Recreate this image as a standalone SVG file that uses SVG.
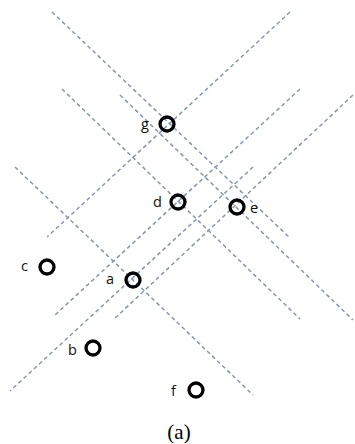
<svg xmlns="http://www.w3.org/2000/svg" width="355" height="444" viewBox="0 0 355 444">
<style>
.ln{stroke:#8797b0;stroke-width:1.5;stroke-dasharray:4 3;fill:none}
.nd{fill:none;stroke:#000;stroke-width:3.3}
.lb{font-family:"Open Sans","Liberation Sans",sans-serif;font-size:14.5px;fill:#111}
.cap{font-family:"Liberation Serif",serif;font-size:21px;fill:#000}
</style>
<rect width="355" height="444" fill="#fff"/>
<g id="connectors">
<line class="ln" x1="52" y1="12" x2="290" y2="238"/>
<line class="ln" x1="120" y1="95" x2="353" y2="320"/>
<line class="ln" x1="62" y1="89" x2="300" y2="319"/>
<line class="ln" x1="15" y1="167" x2="253" y2="395"/>
<line class="ln" x1="290" y1="12" x2="47" y2="237"/>
<line class="ln" x1="300" y1="89" x2="55" y2="315"/>
<line class="ln" x1="353" y1="95" x2="113" y2="320"/>
<line class="ln" x1="253" y1="167" x2="10" y2="391"/>
</g>
<g id="node-g"><circle class="nd" cx="167" cy="124" r="7"/><text class="lb" x="141" y="129">g</text></g>
<g id="node-d"><circle class="nd" cx="178" cy="202" r="7"/><text class="lb" x="153" y="207">d</text></g>
<g id="node-e"><circle class="nd" cx="237" cy="207" r="7"/><text class="lb" x="250" y="213">e</text></g>
<g id="node-c"><circle class="nd" cx="47" cy="267" r="7"/><text class="lb" x="21" y="271">c</text></g>
<g id="node-a"><circle class="nd" cx="133" cy="280" r="7"/><text class="lb" x="106" y="284">a</text></g>
<g id="node-b"><circle class="nd" cx="93" cy="348" r="7"/><text class="lb" x="68" y="355">b</text></g>
<g id="node-f"><circle class="nd" cx="196" cy="390" r="7"/><text class="lb" x="171" y="396">f</text></g>
<text class="cap" x="179" y="439" text-anchor="middle">(a)</text>
</svg>
